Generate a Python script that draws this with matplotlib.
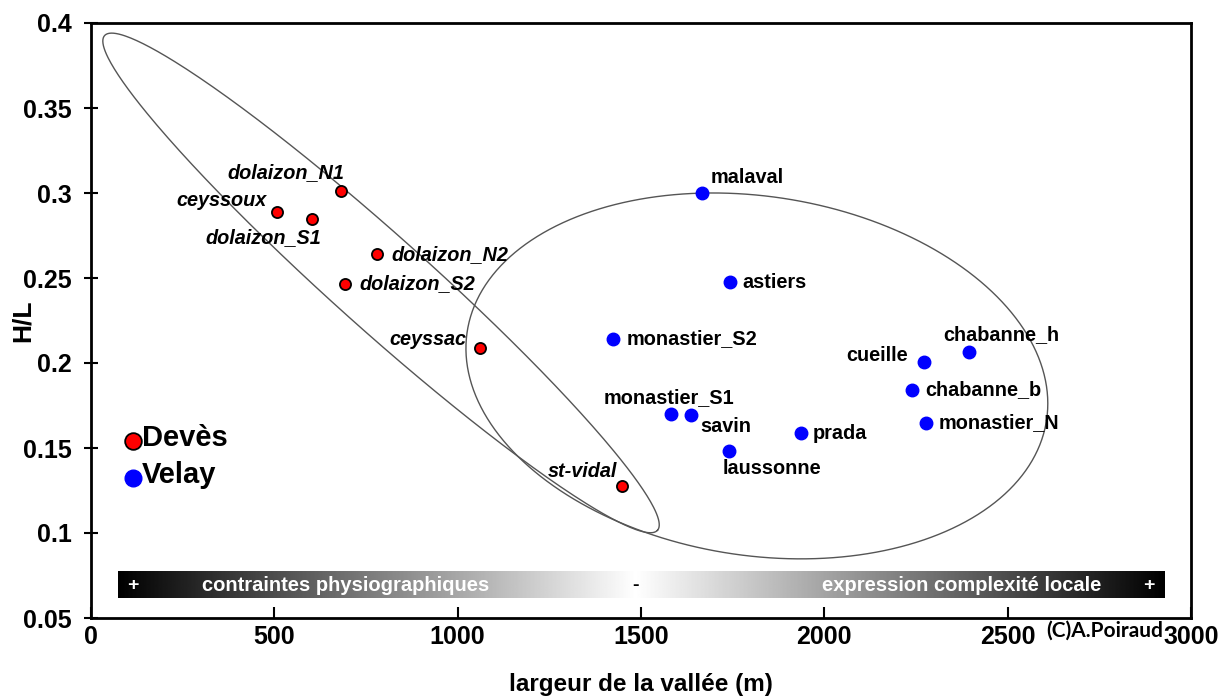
import numpy as np
import matplotlib
matplotlib.use('Agg')
import matplotlib.pyplot as plt
from matplotlib.lines import Line2D

plt.rcParams['font.family'] = ['Liberation Sans', 'DejaVu Sans']

# vallées du Devès
deves_noms = ['ceyssoux', 'dolaizon_S1', 'dolaizon_N1', 'dolaizon_N2',
              'dolaizon_S2', 'ceyssac', 'st-vidal']
deves_largeur = [507, 603, 682, 780, 693, 1061, 1448]
deves_hl = [0.289, 0.285, 0.301, 0.264, 0.2465, 0.209, 0.1276]
# decalage des etiquettes (pixels) et alignement
deves_pos = [(-10, 11, 'right'), (9, -19, 'right'), (3, 19, 'right'),
             (14, 0, 'left'), (14, 0, 'left'), (-14, 8, 'right'),
             (-5, 15, 'right')]

# vallées du Velay
velay_noms = ['malaval', 'astiers', 'monastier_S2', 'monastier_S1', 'savin',
              'laussonne', 'prada', 'cueille', 'chabanne_h', 'chabanne_b',
              'monastier_N']
velay_largeur = [1665, 1743, 1424, 1582, 1636, 1740, 1936, 2272, 2394, 2239, 2277]
velay_hl = [0.300, 0.2476, 0.2141, 0.170, 0.1694, 0.1482, 0.1588, 0.2006,
            0.2065, 0.1841, 0.1647]
velay_pos = [(9, 16, 'left'), (12, 0, 'left'), (13, 0, 'left'),
             (-2, 16, 'center'), (9, -11, 'left'), (-6, -17, 'left'),
             (12, 0, 'left'), (-16, 6, 'right'), (-26, 17, 'left'),
             (13, 0, 'left'), (13, 0, 'left')]

xticks = [0, 500, 1000, 1500, 2000, 2500, 3000]
yticks = [0.05, 0.1, 0.15, 0.2, 0.25, 0.3, 0.35, 0.4]

fig = plt.figure(figsize=(12.24, 7), dpi=100)
ax = fig.add_axes([91 / 1224, 82 / 700, 1100 / 1224, 595 / 700])
ax.set_xlim(0, 3000)
ax.set_ylim(0.05, 0.4)

# enveloppes (centre, demi-axes conjugues)
def enveloppe(c, u, v):
    t = np.linspace(0, 2 * np.pi, 400)
    xs = c[0] + u[0] * np.cos(t) + v[0] * np.sin(t)
    ys = c[1] + u[1] * np.cos(t) + v[1] * np.sin(t)
    ax.plot(xs, ys, color='#555555', lw=1.0, zorder=2)

enveloppe((791, 0.2471), (754, -0.1455), (85, 0.0206))
enveloppe((1816, 0.1924), (790, -0.0261), (74, 0.1044))

# bandeau en degrade
xg = np.linspace(74, 2929, 800)
xm = 1486
g = np.where(xg < xm, 1 - (xm - xg) / (xm - 74), 1 - (xg - xm) / (2929 - xm))
ax.imshow(g[np.newaxis, :], cmap='gray', vmin=0, vmax=1, aspect='auto',
          extent=(74, 2929, 0.0618, 0.0771), zorder=1)
yb = 0.0694
ax.text(115, yb, '+', color='white', fontsize=14, fontweight='bold', ha='center', va='center')
ax.text(695, yb, 'contraintes physiographiques', color='white', fontsize=14.5,
        fontweight='bold', ha='center', va='center')
ax.text(1486, yb, '-', color='black', fontsize=14, fontweight='bold', ha='center', va='center')
ax.text(2375, yb, 'expression complexité locale', color='white', fontsize=14.5,
        fontweight='bold', ha='center', va='center')
ax.text(2885, yb, '+', color='white', fontsize=14, fontweight='bold', ha='center', va='center')

ax.plot(deves_largeur, deves_hl, 'o', ms=8, mfc='#ff0000', mec='black', mew=1.3,
        ls='none', zorder=4)
ax.plot(velay_largeur, velay_hl, 'o', ms=9, mfc='#0000ff', mec='#0000ff',
        ls='none', zorder=4)

for nom, x, y, (dx, dy, ha) in zip(deves_noms, deves_largeur, deves_hl, deves_pos):
    ax.annotate(nom, (x, y), xytext=(dx, dy), textcoords='offset pixels',
                ha=ha, va='center', fontsize=14.3, fontweight='bold',
                fontstyle='italic', zorder=5)
for nom, x, y, (dx, dy, ha) in zip(velay_noms, velay_largeur, velay_hl, velay_pos):
    ax.annotate(nom, (x, y), xytext=(dx, dy), textcoords='offset pixels',
                ha=ha, va='center', fontsize=14.3, fontweight='bold', zorder=5)

poignees = [Line2D([], [], marker='o', ls='none', ms=12, mfc='#ff0000', mec='black', mew=1.3),
            Line2D([], [], marker='o', ls='none', ms=12, mfc='#0000ff', mec='#0000ff')]
leg = ax.legend(poignees, ['Devès', 'Velay'], loc='upper left',
                bbox_to_anchor=(0.0334, 0.326), frameon=False, handlelength=0.8,
                handletextpad=0.2, labelspacing=0.64, borderaxespad=0,
                borderpad=0)
for t in leg.get_texts():
    t.set_fontsize(21)
    t.set_fontweight('bold')

ax.text(2923, 0.0424, '(C)A.Poiraud', family=['Lato', 'DejaVu Sans'], fontsize=15,
        fontweight='bold', ha='right', va='center', clip_on=False)

ax.set_xticks(xticks)
ax.set_xticklabels([str(v) for v in xticks])
ax.set_yticks(yticks)
ax.set_yticklabels(['0.05', '0.1', '0.15', '0.2', '0.25', '0.3', '0.35', '0.4'])
ax.tick_params(axis='x', direction='in', length=8, width=1.5, pad=5, labelsize=18)
ax.tick_params(axis='y', direction='inout', length=10, width=1.5, pad=9, labelsize=18)
for lab in ax.get_xticklabels() + ax.get_yticklabels():
    lab.set_fontweight('bold')
for sp in ax.spines.values():
    sp.set_linewidth(2)

ax.set_xlabel('largeur de la vallée (m)', fontsize=17.5, fontweight='bold', labelpad=17)
ax.set_ylabel('H/L', fontsize=19, fontweight='bold')
ax.yaxis.set_label_coords(-0.051, 0.5)

fig.savefig('out.png', dpi=100)
